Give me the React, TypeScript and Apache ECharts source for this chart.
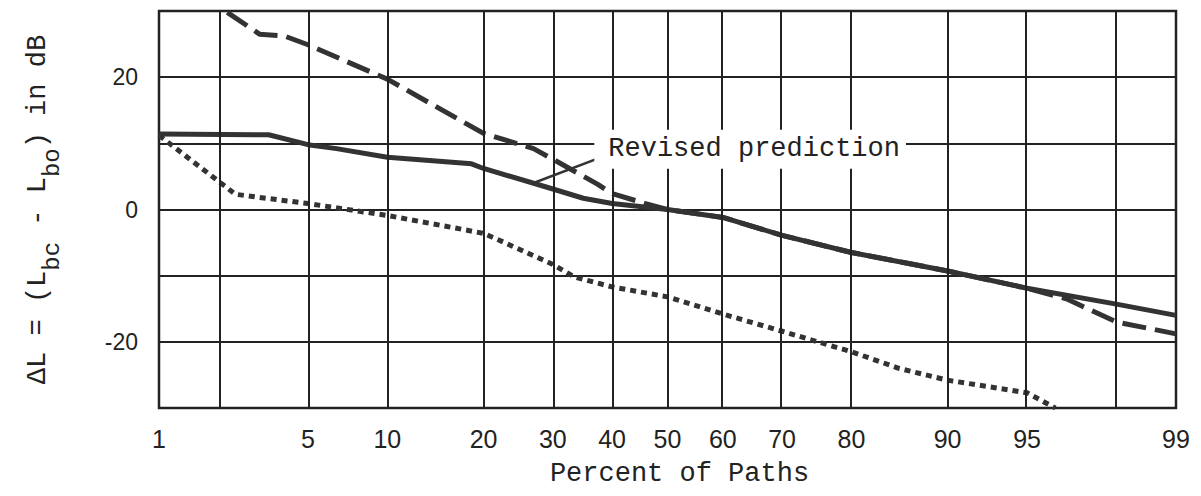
import React, { useEffect, useRef } from "react";
import * as echarts from "echarts";

// ---- data (x in percent of paths, y in dB) ----
const solidPct = [1, 3.4, 5, 6.5, 10, 18.5, 20, 30, 35, 40, 50, 60, 70, 80, 90, 95, 98, 99];
const solidVal = [11.4, 11.3, 9.8, 9.2, 7.9, 6.9, 6.2, 3.1, 1.7, 0.9, 0, -1.2, -3.9, -6.5, -9.3, -11.9, -14.3, -16.0];

const dashedPct = [2.2, 3.1, 4.0, 5, 10, 20, 27, 30, 37.5, 40, 46, 50, 60, 70, 80, 90, 95, 96.6, 98, 99];
const dashedVal = [29.8, 26.5, 26.2, 24.9, 19.7, 11.5, 9.2, 7.6, 3.8, 2.4, 0.9, 0, -1.2, -3.9, -6.5, -9.3, -11.9, -13.5, -17.0, -18.8];

const dottedPct = [1, 2.17, 2.4, 5, 10, 20, 22, 30, 33.5, 40, 50, 60, 70, 80, 85.5, 90, 95, 96.2];
const dottedVal = [11.2, 3.4, 2.3, 0.9, -0.9, -3.6, -4.6, -8.3, -10.2, -11.7, -13.2, -15.8, -18.4, -21.5, -24.0, -25.8, -27.7, -30];

const xLabelPct = [1, 5, 10, 20, 30, 40, 50, 60, 70, 80, 90, 95, 99];
const xGridPct = [2, 5, 10, 20, 30, 40, 50, 60, 70, 80, 90, 95, 98];
const yLabelVals = [20, 0, -20];

const annotText = "Revised prediction";
const annotAt = [36.8, 9.1];
const leaderFrom = [38.7, 8.1];
const leaderTo = [27, 4.0];

// inverse standard normal CDF (Acklam)
function probit(p: number): number {
  const a = [-3.969683028665376e1, 2.209460984245205e2, -2.759285104469687e2, 1.38357751867269e2, -3.066479806614716e1, 2.506628277459239];
  const b = [-5.447609879822406e1, 1.615858368580409e2, -1.556989798598866e2, 6.680131188771972e1, -1.328068155288572e1];
  const c = [-7.784894002430293e-3, -3.223964580411365e-1, -2.400758277161838, -2.549732539343734, 4.374664141464968, 2.938163982698783];
  const d = [7.784695709041462e-3, 3.224671290700398e-1, 2.445134137142996, 3.754408661907416];
  const plow = 0.02425;
  if (p < plow) {
    const q = Math.sqrt(-2 * Math.log(p));
    return (((((c[0] * q + c[1]) * q + c[2]) * q + c[3]) * q + c[4]) * q + c[5]) / ((((d[0] * q + d[1]) * q + d[2]) * q + d[3]) * q + 1);
  }
  if (p <= 1 - plow) {
    const q = p - 0.5;
    const r = q * q;
    return ((((((a[0] * r + a[1]) * r + a[2]) * r + a[3]) * r + a[4]) * r + a[5]) * q) / (((((b[0] * r + b[1]) * r + b[2]) * r + b[3]) * r + b[4]) * r + 1);
  }
  const q = Math.sqrt(-2 * Math.log(1 - p));
  return -(((((c[0] * q + c[1]) * q + c[2]) * q + c[3]) * q + c[4]) * q + c[5]) / ((((d[0] * q + d[1]) * q + d[2]) * q + d[3]) * q + 1);
}
const px = (pct: number) => probit(pct / 100);
const toPts = (pcts: number[], vals: number[]) => pcts.map((p, i) => [px(p), vals[i]]);

const INK = "#222";
const LINE = "#333";
const MONO = "'Liberation Mono', 'Courier New', monospace";
const SANS = "'Liberation Sans', Arial, sans-serif";

export default function App() {
  const ref = useRef<HTMLDivElement>(null);
  useEffect(() => {
    if (!ref.current) return;
    const chart = echarts.init(ref.current, undefined, { renderer: "svg" });
    chart.setOption({
      animation: false,
      backgroundColor: "#fff",
      grid: { left: 159, right: 25, top: 11, bottom: 88, show: true, borderColor: INK, borderWidth: 2.5 },
      xAxis: {
        type: "value",
        min: px(1),
        max: px(99),
        axisLine: { show: false },
        axisTick: { show: false },
        splitLine: { show: false },
        axisLabel: {
          customValues: xLabelPct.map(px),
          formatter: (v: number) => {
            const f = xLabelPct.find((p) => Math.abs(px(p) - v) < 1e-6);
            return f === undefined ? "" : String(f);
          },
          fontFamily: SANS,
          fontSize: 25,
          color: INK,
          margin: 18,
        },
        name: "Percent of Paths",
        nameLocation: "middle",
        nameGap: 52,
        nameTextStyle: { fontFamily: MONO, fontSize: 27, color: INK, padding: [0, 0, 0, 24] },
      },
      yAxis: {
        type: "value",
        min: -30,
        max: 30,
        interval: 10,
        axisLine: { show: false },
        axisTick: { show: false },
        splitLine: { show: true, lineStyle: { color: INK, width: 2 } },
        axisLabel: {
          formatter: (v: number) => (yLabelVals.includes(v) ? String(v) : ""),
          fontFamily: SANS,
          fontSize: 23,
          color: INK,
          margin: 21,
        },
        name: "{n|ΔL = (L}{s|bc}{n| - L}{s|bo}{n|) in dB}",
        nameLocation: "middle",
        nameGap: 108,
        nameTextStyle: {
          color: INK,
          rich: {
            n: { fontFamily: MONO, fontSize: 27, lineHeight: 27, verticalAlign: "top", color: INK },
            s: { fontFamily: MONO, fontSize: 24, lineHeight: 24, padding: [16, 0, 0, 0], verticalAlign: "top", color: INK },
          },
        },
      },
      series: [
        {
          type: "line",
          data: [],
          z: 1,
          silent: true,
          markLine: {
            silent: true,
            symbol: ["none", "none"],
            label: { show: false },
            lineStyle: { color: INK, width: 2, type: "solid" },
            data: xGridPct.map((p) => ({ xAxis: px(p) })),
          },
        },
        {
          type: "line",
          data: [],
          z: 2,
          silent: true,
          markPoint: {
            symbol: "rect",
            symbolSize: 1,
            itemStyle: { color: "rgba(0,0,0,0)" },
            label: {
              show: true,
              position: "right",
              distance: 0,
              formatter: annotText,
              fontFamily: MONO,
              fontSize: 27,
              color: INK,
              backgroundColor: "#fff",
              padding: [6, 6, 6, 14],
            },
            data: [{ coord: [px(annotAt[0]), annotAt[1]] }],
          },
        },
        {
          name: "dashed",
          type: "line",
          z: 3,
          symbol: "none",
          data: toPts(dashedPct, dashedVal),
          lineStyle: { color: LINE, width: 5, type: [24, 9] },
        },
        {
          name: "dotted",
          type: "line",
          z: 3,
          symbol: "none",
          data: toPts(dottedPct, dottedVal),
          lineStyle: { color: LINE, width: 5, type: [6, 5] },
        },
        {
          name: "Revised prediction",
          type: "line",
          z: 4,
          symbol: "none",
          data: toPts(solidPct, solidVal),
          lineStyle: { color: LINE, width: 5 },
          markLine: {
            silent: true,
            symbol: ["none", "none"],
            label: { show: false },
            lineStyle: { color: LINE, width: 2.5, type: "solid" },
            data: [[{ coord: [px(leaderFrom[0]), leaderFrom[1]] }, { coord: [px(leaderTo[0]), leaderTo[1]] }]],
          },
        },
      ],
    });
    return () => chart.dispose();
  }, []);
  return <div ref={ref} style={{ position: "fixed", left: 0, top: 0, width: 1201, height: 496 }} />;
}
